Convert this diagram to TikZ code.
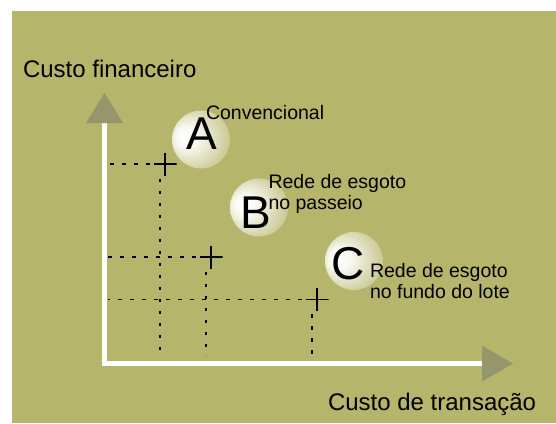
\documentclass[tikz,border=0pt]{standalone}
\usepackage{fontspec}
\setmainfont{Liberation Sans}
\usetikzlibrary{arrows.meta}
\definecolor{bgolive}{RGB}{182,181,108}
\definecolor{tipgray}{RGB}{149,150,108}
\colorlet{pearlhi}{white!92!bgolive}
\colorlet{pearlmid}{white!50!bgolive}
\pgfdeclareradialshading{pearl}{\pgfpoint{-15bp}{2.5bp}}{color(0bp)=(white); color(9bp)=(pearlhi); color(22.5bp)=(pearlmid); color(40bp)=(bgolive); color(50bp)=(bgolive)}

\begin{document}
\begin{tikzpicture}[x=1pt,y=-1pt,inner sep=0pt,outer sep=0pt,
axisline/.style={white,line width=4.5pt,line join=miter,arrows={Triangle[length=30pt,width=37pt,line width=0pt,color=tipgray]-Triangle[length=31pt,width=36pt,line width=0pt,color=tipgray]}},
sphere/.style={circle,minimum size=58pt,shade,shading=pearl},
letter/.style={font=\fontsize{46}{50}\selectfont},
note/.style={font=\fontsize{19.5}{21}\selectfont,align=left,anchor=base west},
axislabel/.style={font=\fontsize{24}{28}\selectfont,anchor=base west},
crossmark/.style={minimum size=23pt,path picture={\draw[line width=1.9pt] (path picture bounding box.north) -- (path picture bounding box.south) (path picture bounding box.west) -- (path picture bounding box.east);}},
dotline/.style={line width=1.8pt,dash pattern=on 3.5pt off 8.5pt}]
\fill[white] (0,0) rectangle (556,423);
\fill[bgolive] (12,11) rectangle (556,423);
\coordinate (ytip) at (104.5,93);
\coordinate (O) at (104.5,363.5);
\coordinate (xtip) at (513,363.5);
\draw (165,164) node[crossmark] (p1) {};
\draw (211,257) node[crossmark] (p2) {};
\draw (317,299.5) node[crossmark] (p3) {};
\draw[dotline] ([xshift=-4pt]p1.west) -- ([xshift=3pt]p1.west -| O);
\draw[dotline] ([xshift=-4pt]p2.west) -- ([xshift=3pt]p2.west -| O);
\draw[dotline] ([xshift=-4pt]p3.west) -- ([xshift=3pt]p3.west -| O);
\draw[dotline] ([xshift=-5pt,yshift=-3pt]p1.south) -- ([xshift=-5pt,yshift=8pt]p1.south |- O);
\draw[dotline] ([xshift=-5pt,yshift=-3pt]p2.south) -- ([xshift=-5pt,yshift=8pt]p2.south |- O);
\draw[dotline] ([xshift=-5pt,yshift=-3pt]p3.south) -- ([xshift=-5pt,yshift=8pt]p3.south |- O);
\draw[axisline] (ytip) -- (O) -- (xtip);
\draw (23,77) node[axislabel] (ylabel) {Custo financeiro};
\draw (328,410) node[axislabel] (xlabel) {Custo de transação};
\draw (201,139.5) node[sphere] (sA) {};
\draw (259,207.5) node[sphere] (sB) {};
\draw (354,261) node[sphere] (sC) {};
\draw (201.5,133.5) node[letter] (A) {A};
\draw (255.8,212.5) node[letter] (B) {B};
\draw (348.3,263.5) node[letter] (C) {C};
\draw (206,119) node[note] (nA) {Convencional};
\draw (268.5,209) node[note] (nB) {Rede de esgoto\\no passeio};
\draw (370,298) node[note] (nC) {Rede de esgoto\\no fundo do lote};
\end{tikzpicture}
\end{document}
